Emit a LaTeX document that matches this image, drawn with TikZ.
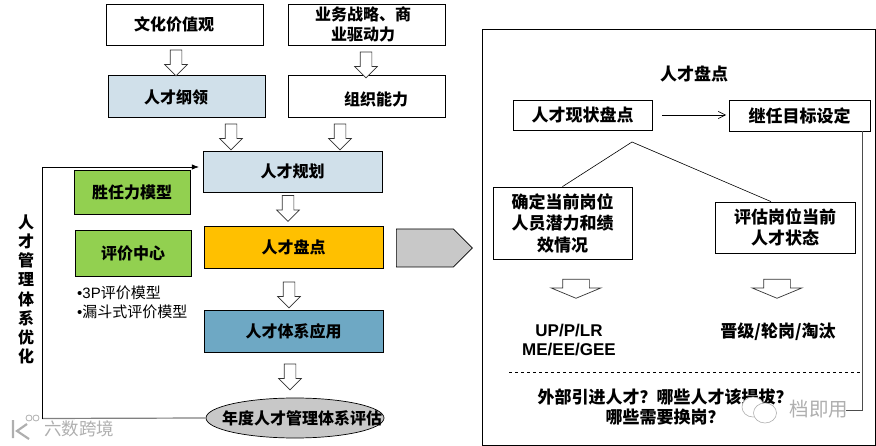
\documentclass[tikz,border=0pt]{standalone}
\usepackage{fontspec}
\setmainfont{Noto Sans CJK SC}
\newfontfamily\latinbold{Liberation Sans}
\usetikzlibrary{arrows.meta, positioning, shapes.geometric, shapes.arrows, shapes.symbols}
\definecolor{paleblue}{RGB}{208, 224, 234}
\definecolor{leafgreen}{RGB}{146, 208, 80}
\definecolor{ambergold}{RGB}{255, 192, 0}
\definecolor{steelblue}{RGB}{110, 168, 196}
\definecolor{midgray}{RGB}{200, 200, 200}
\definecolor{markgray}{RGB}{175, 175, 175}

\begin{document}
\begin{tikzpicture}[
  x=1pt, y=-1pt,
  font=\fontsize{16}{19.2}\selectfont\bfseries,
  box/.style={rectangle, draw=black, fill=white, align=center, inner sep=0pt, line width=0.8pt},
  bigtxt/.style={font=\fontsize{17}{21.5}\selectfont\bfseries},
  downarr/.style={single arrow, shape border rotate=270, draw=black!80, fill=white,
    inner xsep=5.5pt, inner ysep=0pt,
    minimum width=22pt, minimum height=26pt, single arrow head extend=5.5pt, line width=0.7pt},
  widearr/.style={downarr, inner xsep=13pt, minimum width=49pt, minimum height=19pt,
    single arrow head extend=11.5pt, single arrow tip angle=135},
  arr/.style={-{Latex[length=2.5mm]}, line width=0.7pt},
  txt/.style={inner sep=0pt, align=center},
  wmark/.style={inner sep=0pt, text=markgray, font=\fontsize{17.5}{18}\selectfont}
]
\useasboundingbox (0,0) rectangle (876,446);

% left column
\node[box, minimum width=157pt, minimum height=41pt] (culture) at (184.5,24.5) {};
\node[txt] (culturetxt) at (174,24) {文化价值观};
\node[box, minimum width=157pt, minimum height=41pt] (strategy) at (366.5,24.5) {};
\node[txt] (strategytxt) at (363,24.5) {业务战略、商\\业驱动力};
\node[box, fill=paleblue, minimum width=157pt, minimum height=42pt] (charter) at (186.5,96) {};
\node[txt] (chartertxt) at (176,97) {人才纲领};
\node[box, minimum width=157pt, minimum height=42pt] (capability) at (366.5,96) {};
\node[txt] (capabilitytxt) at (376,99) {组织能力};
\node[box, fill=paleblue, minimum width=179pt, minimum height=41pt] (planning) at (292.5,171.5) {人才规划};
\node[box, fill=ambergold, minimum width=179pt, minimum height=42pt] (review) at (293.5,247) {人才盘点};
\node[box, fill=steelblue, minimum width=179pt, minimum height=42pt] (apply) at (293.5,331) {人才体系应用};
\node[ellipse, draw=black, fill=midgray, minimum width=178pt, minimum height=40pt, inner sep=0pt, line width=0.7pt] (annual) at (295,418) {};
\node[txt] (annualtxt) at (302,418) {年度人才管理体系评估};

\node[box, fill=leafgreen, minimum width=116pt, minimum height=44pt] (model) at (132,192) {胜任力模型};
\node[box, fill=leafgreen, minimum width=116pt, minimum height=46pt] (assess) at (133,253) {评价中心};
\node[txt, anchor=west, align=left, font=\fontsize{15}{19}\selectfont] (bullets) at (77,302.5) {{\latinbold •3P}评价模型\\{\latinbold •}漏斗式评价模型};

\node[downarr] (a1) at (176,60) {};
\node[downarr] (a2) at (366,62) {};
\node[downarr] (a3) at (231,134) {};
\node[downarr] (a4) at (340,134) {};
\node[downarr] (a5) at (288,205.5) {};
\node[downarr] (a6) at (289,292) {};
\node[downarr] (a7) at (290,374) {};

\node[signal, signal to=east, draw=black, fill=midgray, inner sep=0pt, minimum width=76pt, minimum height=38pt, line width=0.7pt, anchor=west] (pointer) at (396,248) {};

\node[txt] (loopname) at (26,289.5) {人\\才\\管\\理\\体\\系\\优\\化};

\coordinate (loopa) at (42,418.5);
\coordinate (loopb) at (42,167);
\coordinate (loopend) at (199,167);
\draw[gray, line width=1.2pt] (annual.west) -- (loopa);
\draw[arr] (loopa) -- (loopb) -- (loopend);

% right panel
\node[box, minimum width=393pt, minimum height=416pt] (panel) at (678.5,237) {};
\node[txt, bigtxt] (paneltitle) at (694,74) {人才盘点};
\node[box, bigtxt, minimum width=139pt, minimum height=30pt] (current) at (582.5,115) {人才现状盘点};
\node[box, bigtxt, minimum width=141pt, minimum height=31pt] (target) at (799.5,115.5) {继任目标设定};
\node[box, bigtxt, minimum width=139pt, minimum height=72pt] (potential) at (562.5,223) {确定当前岗位\\人员潜力和绩\\效情况};
\node[box, bigtxt, minimum width=140pt, minimum height=51pt] (status) at (785,227.5) {评估岗位当前\\人才状态};
\coordinate (fork) at (632,142);
\coordinate (currentright) at (662,115);
\coordinate (targetleft) at (726,115);
\draw[-{Straight Barb[length=2.5mm,width=2.5mm]}, line width=0.6pt] (currentright) -- (targetleft);
\draw[line width=0.6pt] (potential.north) -- (fork) -- ([xshift=-14pt]status.north);

\node[widearr] (b1) at (576,286) {};
\node[widearr] (b2) at (777,286) {};

\node[txt, font=\fontsize{17}{19}\selectfont\bfseries\latinbold] (grades) at (569,340) {UP/P/LR\\ME/EE/GEE};
\node[txt, bigtxt] (moves) at (778,332) {晋级/轮岗/淘汰};

\coordinate (dashleft) at (509,372);
\coordinate (dashright) at (862,372);
\draw[dashed, line width=0.6pt] (dashleft) -- (dashright);
\node[txt, font=\fontsize{17}{20}\selectfont\bfseries] (question) at (665,407) {外部引进人才？哪些人才该提拔？\\哪些需要换岗？};

\coordinate (feedcorner) at (862,410);
\coordinate (feedend) at (846,410);
\draw[black!70, line width=0.8pt] ([xshift=-8pt]target.south east) -- ([xshift=-8pt]target.south east |- feedcorner) -- (feedend);

% watermarks
\node[ellipse, draw=markgray, fill=white, minimum width=22pt, minimum height=20pt, inner sep=0pt, line width=0.6pt] (chat1) at (753,407) {};
\node[ellipse, draw=markgray, fill=white, minimum width=23pt, minimum height=20pt, inner sep=0pt, line width=0.6pt] (chat2) at (765,413) {};
\node[wmark, font=\fontsize{19.5}{20}\selectfont] (brand) at (819,409) {档即用};
\node[wmark] (site) at (79,429) {六数跨境};
\node[circle, draw=markgray, inner sep=0pt, minimum size=6pt, line width=0.8pt] (dot1) at (29,418) {};
\node[circle, draw=markgray, inner sep=0pt, minimum size=6pt, line width=0.8pt] (dot2) at (36,418) {};
\draw[markgray, line width=2.2pt] (13,420) -- (13,438) (27,424) -- (17,431) -- (29,439);
\end{tikzpicture}
\end{document}
